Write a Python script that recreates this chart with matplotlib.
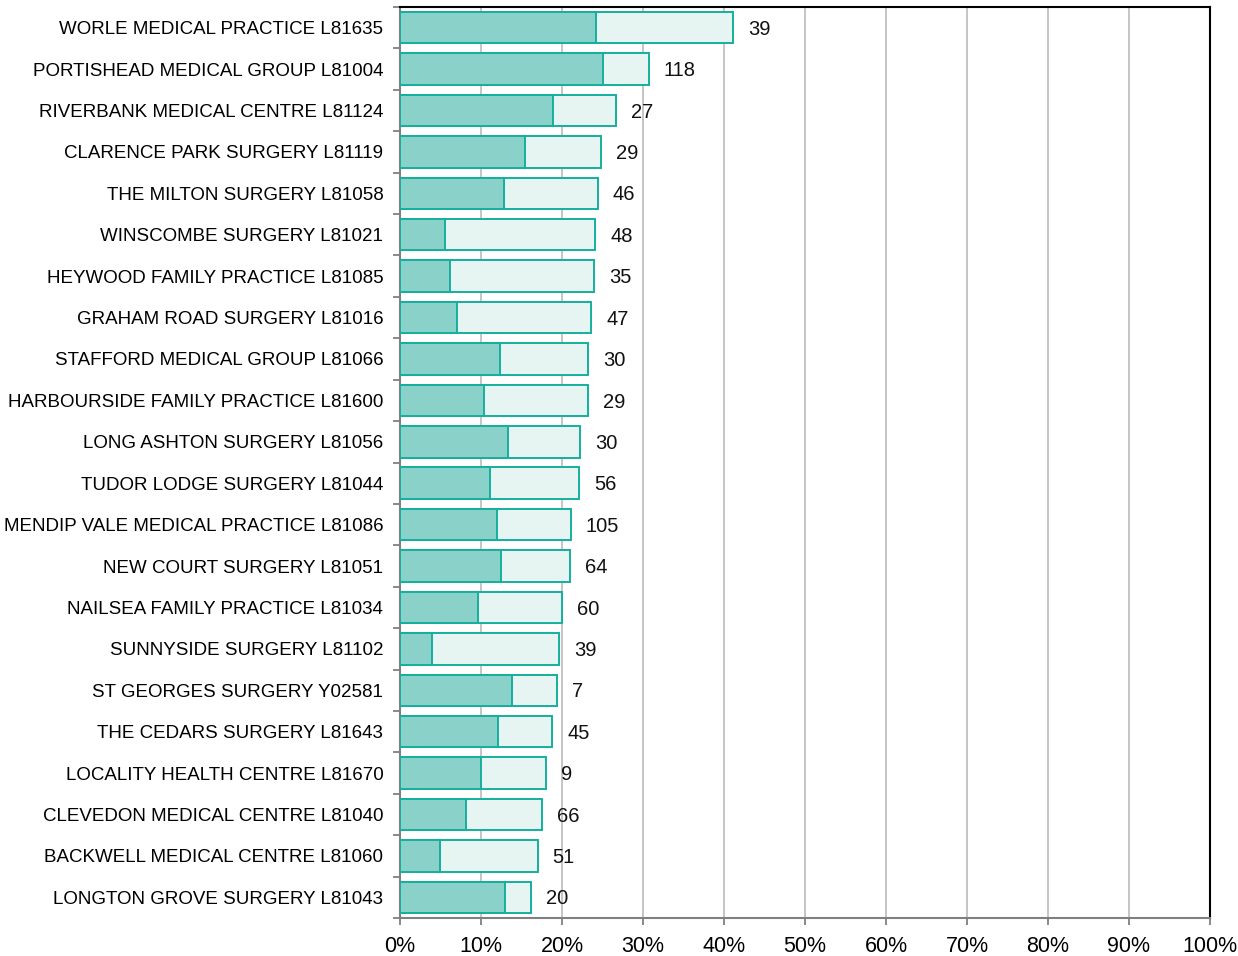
import matplotlib.pyplot as plt
import numpy as np

practices = ['WORLE MEDICAL PRACTICE L81635', 'PORTISHEAD MEDICAL GROUP L81004',
             'RIVERBANK MEDICAL CENTRE L81124', 'CLARENCE PARK SURGERY L81119',
             'THE MILTON SURGERY L81058', 'WINSCOMBE SURGERY L81021',
             'HEYWOOD FAMILY PRACTICE L81085', 'GRAHAM ROAD SURGERY L81016',
             'STAFFORD MEDICAL GROUP L81066', 'HARBOURSIDE FAMILY PRACTICE L81600',
             'LONG ASHTON SURGERY L81056', 'TUDOR LODGE SURGERY L81044',
             'MENDIP VALE MEDICAL PRACTICE L81086', 'NEW COURT SURGERY L81051',
             'NAILSEA FAMILY PRACTICE L81034', 'SUNNYSIDE SURGERY L81102',
             'ST GEORGES SURGERY Y02581', 'THE CEDARS SURGERY L81643',
             'LOCALITY HEALTH CENTRE L81670', 'CLEVEDON MEDICAL CENTRE L81040',
             'BACKWELL MEDICAL CENTRE L81060', 'LONGTON GROVE SURGERY L81043']
inner_pct = [24.2, 25.1, 18.9, 15.4, 12.8, 5.6, 6.2, 7.0, 12.3, 10.4, 13.3,
             11.1, 12.0, 12.5, 9.6, 4.0, 13.8, 12.1, 10.0, 8.1, 4.9, 13.0]
total_pct = [41.1, 30.7, 26.7, 24.8, 24.4, 24.1, 24.0, 23.6, 23.2, 23.2, 22.2,
             22.1, 21.1, 21.0, 20.0, 19.6, 19.4, 18.8, 18.0, 17.5, 17.0, 16.2]
counts = [39, 118, 27, 29, 46, 48, 35, 47, 30, 29, 30, 56, 105, 64, 60, 39,
          7, 45, 9, 66, 51, 20]

plt.rcParams['font.family'] = ['Liberation Sans', 'DejaVu Sans']

edge = '#14b09d'
fig = plt.figure(figsize=(12.38, 9.56), dpi=100)
ax = fig.add_axes([400/1238, 1 - 918/956, 810/1238, 911/956])

y = np.arange(len(practices))
ax.barh(y, total_pct, height=0.76, color='#e6f4f2', edgecolor=edge, linewidth=1.4, zorder=3)
ax.barh(y, inner_pct, height=0.76, color='#8ad1c9', edgecolor=edge, linewidth=1.4, zorder=4)

# counts sit just right of each bar, a touch below centre
for yi, t, c in zip(y, total_pct, counts):
    ax.text(t + 1.85, yi + 0.04, str(c), va='center', ha='left', fontsize=14.5,
            color='#111111', zorder=5)

ax.set_xlim(0, 100)
ax.set_ylim(len(practices) - 0.5, -0.5)
ax.set_xticks(np.arange(0, 101, 10))
ax.set_xticklabels([f'{v}%' for v in range(0, 101, 10)], fontsize=15.5)
ax.set_yticks(y)
ax.set_yticklabels(practices, fontsize=13.5)
ax.set_yticks(np.arange(-0.5, len(practices), 1), minor=True)
ax.tick_params(axis='y', which='major', length=0, pad=12)
ax.tick_params(axis='y', which='minor', length=5, color='#808080', width=1.3)
ax.tick_params(axis='x', length=5, color='#808080', width=1.3, pad=8)

ax.grid(axis='x', color='#c0c0c0', linewidth=1.3, zorder=0)
ax.set_axisbelow(True)
for s in ['left', 'bottom']:
    ax.spines[s].set_color('#808080')
    ax.spines[s].set_linewidth(1.5)
for s in ['top', 'right']:
    ax.spines[s].set_color('black')
    ax.spines[s].set_linewidth(1.5)

fig.savefig('out.png', dpi=100)
